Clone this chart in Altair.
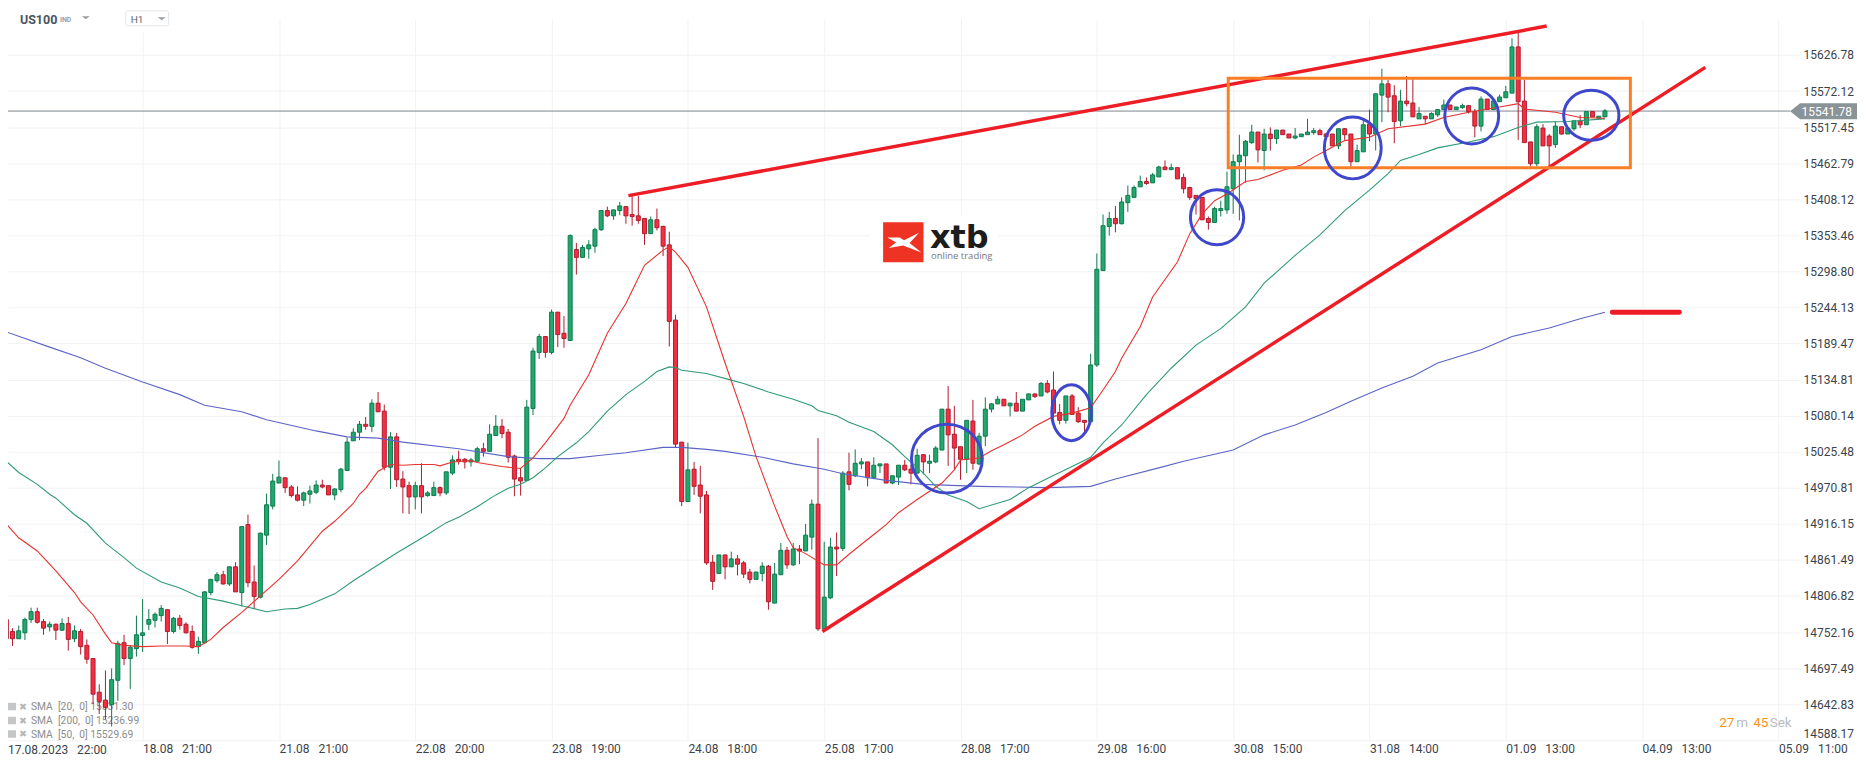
import altair as alt
import pandas as pd

# ---- candle values (price), one entry per hourly bar ----
opens = [
 14771,14753,14742,14751,14771,14783,14768,14760,14764,14755,
 14765,14742,14753,14732,14712,14661,14649,14642,14679,14736,
 14712,14727,14747,14764,14770,14777,14786,14753,14773,14764,
 14753,14730,14736,14812,14830,14839,14825,14851,14812,14915,
 14828,14805,14899,14943,14978,14986,14972,14960,14952,14961,
 14964,14975,14974,14960,14968,14997,15042,15055,15067,15064,
 15099,15087,15002,15048,14984,14974,14957,14974,14959,14959,
 14971,14963,14993,15014,15014,15010,15011,15030,15026,15050,
 15064,15055,15019,14986,14982,15091,15176,15200,15176,15237,
 15205,15194,15332,15320,15333,15337,15362,15391,15383,15391,
 15397,15385,15383,15379,15356,15377,15367,15339,15225,15040,
 14950,14999,14975,14960,14858,14841,14869,14851,14863,14857,
 14843,14832,14841,14852,14796,14839,14876,14854,14878,14875,
 14896,14946,14757,14804,14881,14879,14995,14989,15007,15010,
 14986,15004,15007,14978,14987,15005,14999,14993,15021,15008,
 15010,15028,15090,15052,15033,15014,15072,15007,15049,15090,
 15098,15105,15095,15099,15087,15104,15113,15110,15129,15119,
 15085,15073,15110,15084,15073,15071,15157,15300,15367,15379,
 15371,15403,15411,15427,15435,15433,15442,15457,15453,15456,
 15441,15426,15414,15411,15379,15373,15391,15392,15424,15465,
 15474,15494,15510,15482,15507,15500,15513,15507,15501,15503,
 15506,15509,15512,15507,15507,15489,15515,15507,15465,15480,
 15522,15507,15566,15583,15565,15527,15557,15554,15530,15534,
 15530,15536,15544,15551,15544,15547,15550,15541,15519,15560,
 15544,15556,15562,15569,15639,15557,15495,15462,15516,15504,
 15491,15518,15507,15515,15527,15521,15541,15531,15533]
highs = [
 14772,14758,14762,14774,14789,14789,14772,14768,14765,14773,
 14775,14762,14757,14741,14712,14673,14694,14697,14739,14748,
 14732,14777,14802,14787,14782,14793,14786,14775,14778,14767,
 14762,14745,14814,14832,14843,14845,14852,14858,14912,14930,
 14853,14903,14962,14992,15012,14986,14975,14973,14965,14974,
 14982,14983,14974,14970,15001,15047,15061,15072,15078,15105,
 15116,15097,15055,15054,14996,14980,14980,15008,14966,14980,
 14973,14995,15020,15027,15016,15016,15033,15039,15067,15081,
 15075,15060,15021,15001,15104,15183,15204,15200,15241,15237,
 15231,15355,15342,15339,15346,15365,15391,15397,15392,15404,
 15397,15413,15413,15379,15382,15394,15368,15359,15233,15040,
 15039,15010,15004,14966,14869,14869,14869,14874,14869,14860,
 14848,14844,14858,14854,14857,14887,14881,14887,14884,14916,
 14953,15046,14889,14895,14903,14996,15024,15029,15016,15010,
 15017,15007,15007,14989,15005,15013,15005,15030,15021,15021,
 15034,15090,15125,15095,15033,15073,15104,15054,15108,15099,
 15110,15105,15100,15116,15105,15114,15114,15131,15134,15147,
 15098,15110,15113,15093,15073,15174,15326,15385,15389,15398,
 15411,15429,15429,15444,15441,15448,15459,15467,15462,15456,
 15447,15427,15414,15411,15382,15397,15406,15450,15476,15506,
 15498,15521,15510,15515,15517,15513,15513,15507,15516,15507,
 15530,15516,15515,15509,15507,15515,15516,15507,15491,15530,
 15544,15568,15606,15589,15581,15574,15595,15590,15548,15534,
 15540,15545,15559,15551,15548,15553,15550,15545,15564,15560,
 15557,15567,15580,15652,15661,15589,15495,15522,15522,15507,
 15526,15518,15516,15527,15536,15541,15541,15534,15545]
lows = [
 14737,14731,14742,14740,14766,14765,14748,14753,14740,14754,
 14724,14737,14718,14704,14643,14628,14620,14609,14648,14702,
 14666,14715,14722,14755,14759,14768,14734,14750,14756,14750,
 14727,14719,14734,14808,14827,14824,14822,14813,14791,14820,
 14787,14803,14884,14938,14978,14963,14956,14950,14943,14947,
 14961,14970,14960,14952,14964,14996,15042,15043,15059,15055,
 15086,14997,14969,14972,14932,14931,14938,14932,14957,14959,
 14958,14960,14990,15006,15000,15003,15011,15018,15026,15049,
 15046,15009,14958,14959,14981,15081,15166,15168,15173,15184,
 15183,15194,15294,15320,15318,15327,15360,15381,15377,15384,
 15371,15368,15371,15339,15356,15361,15322,15185,15031,14943,
 14950,14960,14932,14854,14816,14840,14832,14851,14838,14834,
 14826,14832,14829,14786,14796,14839,14848,14852,14855,14875,
 14877,14754,14757,14802,14837,14875,14967,14987,14999,14973,
 14984,14993,14978,14976,14975,14996,14976,14993,14991,14993,
 15008,15028,15004,14999,14983,14993,14998,15005,15034,15085,
 15098,15095,15079,15087,15087,15104,15107,15110,15114,15076,
 15067,15068,15082,15069,15052,15071,15154,15300,15353,15358,
 15370,15389,15411,15427,15430,15433,15442,15453,15453,15439,
 15417,15407,15385,15377,15362,15373,15382,15386,15386,15376,
 15433,15492,15464,15452,15482,15492,15506,15501,15499,15503,
 15506,15506,15506,15503,15489,15484,15498,15458,15465,15480,
 15496,15482,15525,15540,15493,15519,15549,15533,15530,15522,
 15530,15533,15544,15544,15544,15545,15538,15502,15511,15544,
 15544,15556,15562,15569,15498,15494,15458,15458,15489,15457,
 15486,15506,15507,15512,15516,15521,15533,15531,15533]
closes = [
 14742,14742,14754,14771,14783,14767,14758,14764,14755,14765,
 14741,14754,14730,14711,14658,14647,14638,14680,14735,14712,
 14729,14748,14751,14771,14779,14788,14753,14773,14762,14751,
 14729,14738,14813,14832,14839,14825,14851,14813,14912,14827,
 14806,14902,14945,14981,14987,14971,14959,14952,14963,14966,
 14975,14972,14960,14969,14999,15040,15055,15067,15064,15099,
 15086,15002,15048,14983,14972,14957,14974,14957,14963,14971,
 14963,14995,15013,15011,15010,15013,15030,15026,15052,15064,
 15053,15017,14984,14981,15093,15178,15200,15176,15237,15203,
 15197,15353,15320,15335,15339,15362,15391,15383,15392,15398,
 15383,15382,15376,15356,15377,15365,15337,15223,15037,14950,
 14998,14973,14958,14857,14829,14869,14851,14863,14855,14840,
 14832,14843,14852,14798,14840,14876,14854,14878,14875,14899,
 14946,14757,14805,14881,14878,14993,14976,15008,15010,14986,
 15005,15007,14978,14989,15005,14998,14993,15020,15010,15011,
 15031,15090,15051,15031,15014,15073,15008,15049,15090,15098,
 15105,15095,15099,15087,15105,15113,15109,15129,15116,15084,
 15073,15110,15082,15071,15070,15157,15302,15368,15379,15371,
 15404,15414,15426,15435,15432,15445,15457,15453,15456,15439,
 15424,15411,15409,15377,15373,15394,15394,15427,15465,15475,
 15496,15510,15483,15507,15500,15513,15506,15501,15504,15507,
 15510,15512,15506,15503,15489,15515,15506,15465,15482,15521,
 15507,15568,15583,15563,15526,15557,15553,15533,15538,15530,
 15538,15544,15551,15544,15548,15550,15541,15519,15560,15544,
 15557,15563,15571,15639,15556,15494,15462,15518,15489,15489,
 15519,15507,15516,15527,15521,15541,15533,15534,15542]

# ---- moving averages: bar index and value read at the visible bends ----
sma20_bar = [0,2,5,8,11,12,14,16,17,19,22,25,29,31,33,35,38,44,47,51,53,56,57,58,60,62,64,66,69,70,72,75,76,80,83,85,87,90,91,94,97,100,103,106,107,108,110,113,116,119,121,124,126,127,129,132,134,136,140,142,144,147,151,153,154,157,159,161,164,166,169,172,175,177,179,180,183,185,189,191,193,195,197,200,202,206,209,211,213,216,220,223,229,232,236,241,244,245,250,254,258]
sma20_val = [14916,14895,14875,14845,14812,14798,14778,14749,14736,14732,14730,14731,14731,14730,14741,14759,14782,14832,14860,14905,14920,14947,14961,14970,14996,15006,15005,15006,15006,15004,15010,15012,15009,15003,15000,15016,15039,15076,15096,15142,15205,15250,15308,15331,15336,15328,15305,15245,15160,15079,15018,14943,14897,14880,14871,14854,14854,14870,14900,14915,14933,14953,14978,14998,15013,15016,15027,15036,15051,15064,15079,15084,15092,15119,15147,15167,15215,15260,15313,15356,15386,15406,15416,15435,15438,15452,15460,15472,15482,15497,15502,15515,15522,15532,15540,15548,15553,15545,15540,15532,15531]
sma50_bar = [0,2,5,7,8,11,13,16,19,21,25,28,31,35,38,42,45,47,49,53,56,63,68,71,73,76,79,81,83,85,87,89,92,94,97,100,103,105,107,108,109,113,117,119,123,127,130,131,134,136,140,143,145,148,150,152,155,157,162,165,168,172,175,177,180,184,188,192,196,200,203,208,212,216,220,223,225,228,231,236,240,244,247,252,258]
sma50_val = [15011,14994,14976,14961,14955,14930,14917,14887,14865,14849,14828,14819,14806,14799,14792,14783,14787,14788,14794,14810,14830,14872,14900,14918,14926,14942,14960,14970,14976,14986,15001,15018,15039,15056,15087,15112,15132,15147,15154,15153,15149,15144,15134,15129,15116,15105,15095,15088,15080,15070,15056,15036,15018,14993,14973,14960,14950,14939,14953,14971,14985,15003,15017,15039,15066,15112,15152,15187,15212,15245,15281,15323,15354,15391,15422,15447,15467,15476,15486,15495,15503,15517,15525,15526,15530]
sma200_bar = [0,7,12,16,22,28,32,38,42,50,55,60,64,73,81,86,91,96,100,106,109,113,116,122,127,132,135,142,148,157,163,168,175,179,186,190,198,203,208,213,217,222,227,231,238,243,249,254,258]
sma200_val = [15207,15184,15168,15152,15131,15112,15096,15086,15074,15057,15048,15046,15040,15030,15018,15015,15015,15020,15024,15032,15032,15029,15026,15017,15007,14999,14992,14982,14976,14973,14972,14971,14973,14984,15001,15011,15028,15051,15066,15085,15102,15122,15140,15160,15180,15200,15213,15227,15237]

# ---- axis labels ----
y_ticks = [15626.78,15572.12,15517.45,15462.79,15408.12,15353.46,15298.80,15244.13,15189.47,15134.81,
           15080.14,15025.48,14970.81,14916.15,14861.49,14806.82,14752.16,14697.49,14642.83,14588.17]
NB = "\u00a0\u00a0\u00a0"
x_labels = ["17.08.2023","18.08","21.08","22.08","23.08","24.08","25.08","28.08","29.08","30.08","31.08","01.09","04.09","05.09"]
x_times = ["22:00","21:00","21:00","20:00","19:00","18:00","17:00","17:00","16:00","15:00","14:00","13:00","13:00","11:00"]
BARS_PER_TICK = 22
x_tick_bars = [BARS_PER_TICK * k for k in range(len(x_labels))]
label_text = [d + NB + t for d, t in zip(x_labels, x_times)]
last_price = 15541.78

# ---- drawn annotations (bar index, price) ----
upper_trend = {"bar": [100.4, 248.6], "price": [15413.6, 15670.6]}
lower_trend = {"bar": [131.7, 274.2], "price": [14753, 15608]}
target_line = {"bar": [259.2, 270.0], "price": [15236.8, 15236.8]}
box = {"bar": 197.2, "bar2": 262.1, "price": 15591.4, "price2": 15456}
circles = [  # bar, price, rx px, ry px
    (151.8, 15015, 35.5, 34.5), (171.9, 15084.6, 19.7, 28),
    (195.4, 15380.8, 26.7, 27.5), (217.3, 15485.9, 28.5, 31),
    (236.5, 15534.3, 27, 28), (255.8, 15535.5, 27.7, 25),
]
legend_lines = ["SMA\u00a0\u00a0[20,\u00a0\u00a00]\u00a015531.30",
                "SMA\u00a0\u00a0[200,\u00a0\u00a00]\u00a015236.99",
                "SMA\u00a0\u00a0[50,\u00a0\u00a00]\u00a015529.69"]

# ---- colours ----
GREEN, GREEN_DK = "#22a76d", "#0c7a4e"
RED, RED_DK = "#f42f43", "#b11b2d"
GRID = "#f1f2f4"
AXIS_TXT = "#3c444c"

# ---- scales: plot area spans page x 8..1804, y 18..741 ----
WIDTH, HEIGHT = 1796, 723
XS = alt.Scale(domain=[0.2738, 289.5], nice=False, zero=False, padding=0)
YS = alt.Scale(domain=[14588.17, 15681.66], nice=False, zero=False, padding=0)
px = lambda v: v - 8
py = lambda v: v - 18
ONE = alt.Data(values=[{"k": 0}])

df = pd.DataFrame({"bar": range(len(opens)), "o": opens, "h": highs, "l": lows, "c": closes})
df["dir"] = ["up" if c >= o else "down" for o, c in zip(opens, closes)]
DIR = ["up", "down"]

x_axis = alt.Axis(values=x_tick_bars, labelExpr="%s[round(datum.value / %d)]" % (repr(label_text), BARS_PER_TICK),
                  grid=True, gridColor=GRID, gridWidth=1, ticks=False, domain=False, title=None,
                  labelAlign="left", labelPadding=3, labelFont="Roboto", labelFontSize=12, labelColor=AXIS_TXT,
                  labelOverlap=False, labelFlush=False, labelBound=False, orient="bottom")
y_axis = alt.Axis(values=y_ticks, format=".2f", grid=True, gridColor=GRID, gridWidth=1, ticks=False, domain=False,
                  title=None, orient="right", labelPadding=3, labelFont="Roboto", labelFontSize=12,
                  labelColor=AXIS_TXT, labelOverlap=False, labelFlush=True)

def X(f="bar"):
    return alt.X(f + ":Q", scale=XS, axis=x_axis)
def Y(f="price"):
    return alt.Y(f + ":Q", scale=YS, axis=y_axis)

def text(s, x, y, **kw):
    kw.setdefault("align", "left")
    kw.setdefault("baseline", "middle")
    kw.setdefault("font", "Roboto")
    return alt.Chart(ONE).mark_text(text=s, **kw).encode(x=alt.value(px(x)), y=alt.value(py(y)))

def rect(x, x2, y, y2, **kw):
    return alt.Chart(ONE).mark_rect(**kw).encode(
        x=alt.value(px(x)), x2=alt.value(px(x2)), y=alt.value(py(y)), y2=alt.value(py(y2)))

def glyph(path, x, y, color):
    return alt.Chart(ONE).mark_point(shape=path, size=4, filled=True, color=color, opacity=1, strokeWidth=0).encode(
        x=alt.value(px(x)), y=alt.value(py(y)))

def line(d, color, width, **kw):
    return alt.Chart(pd.DataFrame(d)).mark_line(color=color, strokeWidth=width, **kw).encode(
        x=X(), y=Y(), order="bar:Q")

layers = []

# white mats behind header and logo
layers.append(rect(120, 175, 8, 32, color="white"))
layers.append(rect(872, 1000, 215, 270, color="white"))

# first date label: its tick sits just left of the page margin
layers.append(text(label_text[0], 8, 750.5, fontSize=12, color=AXIS_TXT))

# legend of studies (below the candles)
for s, yy in zip(legend_lines, [708, 722, 735.5]):
    layers.append(rect(6, 16, yy - 4.5, yy + 3, color="#c4c6c8"))
    layers.append(text("\u2716", 19, yy - 0.5, font="DejaVu Sans", fontSize=9.5, color="#b4b6b8"))
    layers.append(text(s, 31, yy, fontSize=10.3, color="#8c8c8c"))

# logo
layers.append(rect(885, 925.5, 222, 262, color="#ee3224"))
layers.append(glyph("M-16,-4.7 L-3.7,-4.7 L0.7,-2 L15.7,-9.7 L6.3,0.7 L18,10.3 L-0.3,3.3 L-14.7,5.7 L-7.3,0.3 Z", 905.3, 242, "white"))
layers.append(text("xtb", 932, 248, baseline="alphabetic", font="DejaVu Sans", fontWeight="bold", fontSize=32, color="#1d1d1d"))
layers.append(text("online trading", 933, 258.5, baseline="alphabetic", font="Open Sans", fontSize=9.5, color="#777777"))

# price line
layers.append(alt.Chart(pd.DataFrame({"price": [last_price]})).mark_rule(color="#7d878f", strokeWidth=1).encode(
    y=Y(), x=alt.value(px(0)), x2=alt.value(px(1794))))

# candles
stroke_scale = alt.Scale(domain=DIR, range=[GREEN_DK, RED_DK])
layers.append(alt.Chart(df).mark_rule(strokeWidth=1).encode(
    x=X(), y=Y("l"), y2="h:Q",
    stroke=alt.Stroke("dir:N", scale=stroke_scale, legend=None)))
layers.append(alt.Chart(df).mark_bar(size=4, strokeWidth=1).encode(
    x=X(), y=Y("o"), y2="c:Q",
    color=alt.Color("dir:N", scale=alt.Scale(domain=DIR, range=[GREEN, RED]), legend=None),
    stroke=alt.Stroke("dir:N", scale=stroke_scale, legend=None)))

# moving averages
layers.append(line({"bar": sma200_bar, "price": sma200_val}, "#5c64c8", 1.1))
layers.append(line({"bar": sma50_bar, "price": sma50_val}, "#2f9b75", 1.1))
layers.append(line({"bar": sma20_bar, "price": sma20_val}, "#e5322f", 1.1))

# drawn annotations
layers.append(line(upper_trend, "#ee1c25", 3.5))
layers.append(line(lower_trend, "#ee1c25", 3.5))
layers.append(line(target_line, "#ee1c25", 5, strokeCap="round"))
layers.append(alt.Chart(alt.Data(values=[box])).mark_rect(fillOpacity=0, stroke="#f97e26", strokeWidth=3).encode(
    x=X("bar"), x2="bar2:Q", y=Y("price"), y2="price2:Q"))
for b, p, rx, ry in circles:
    path = f"M{-rx},0 A{rx},{ry} 0 1,1 {rx},0 A{rx},{ry} 0 1,1 {-rx},0 Z"
    layers.append(alt.Chart(alt.Data(values=[{"bar": b, "price": p}])).mark_point(
        shape=path, size=4, filled=False, stroke="#3f48cc", strokeWidth=3, opacity=1).encode(x=X(), y=Y()))

# last price flag
layers.append(glyph("M0,0 L10,-8 L67,-8 L67,8 L10,8 Z", 1794, 110.6, "#8a9398"))
layers.append(text("%.2f" % last_price, 1805.5, 111, fontSize=12, color="white"))

# header
layers.append(text("US100", 20, 19, fontSize=12.5, fontWeight="bold", color="#4a5560"))
layers.append(text("IND", 60, 19.5, fontSize=7, fontWeight="bold", color="#9a9fa5"))
layers.append(glyph("M-4,-1.5 L4,-1.5 L0,1.5 Z", 86, 17, "#9a9fa5"))
layers.append(rect(126, 169, 10, 25, fill="white", stroke="#e3e5e7", strokeWidth=1, cornerRadius=2))
layers.append(text("H1", 131, 19.5, fontSize=10, color="#5c6670"))
layers.append(glyph("M-4,-1.5 L4,-1.5 L0,1.5 Z", 162, 18, "#9a9fa5"))

# countdown
ORANGE, SOFT = "#f7941e", "#b9bdc1"
layers.append(text("27", 1723, 723.5, fontSize=13.5, color=ORANGE))
layers.append(text("m", 1740, 723.5, fontSize=13.5, color=SOFT))
layers.append(text("45", 1757, 723.5, fontSize=13.5, color=ORANGE))
layers.append(text("Sek", 1773.5, 723.5, fontSize=13.5, color=SOFT))

chart = alt.layer(*layers).properties(
    width=WIDTH, height=HEIGHT,
    padding={"left": 0, "top": 10, "right": 58, "bottom": 18},
    autosize=alt.AutoSizeParams(type="none"),
    background="white",
).configure_view(stroke=None)

chart.save("out.html", embed_options={"renderer": "svg", "actions": False})
